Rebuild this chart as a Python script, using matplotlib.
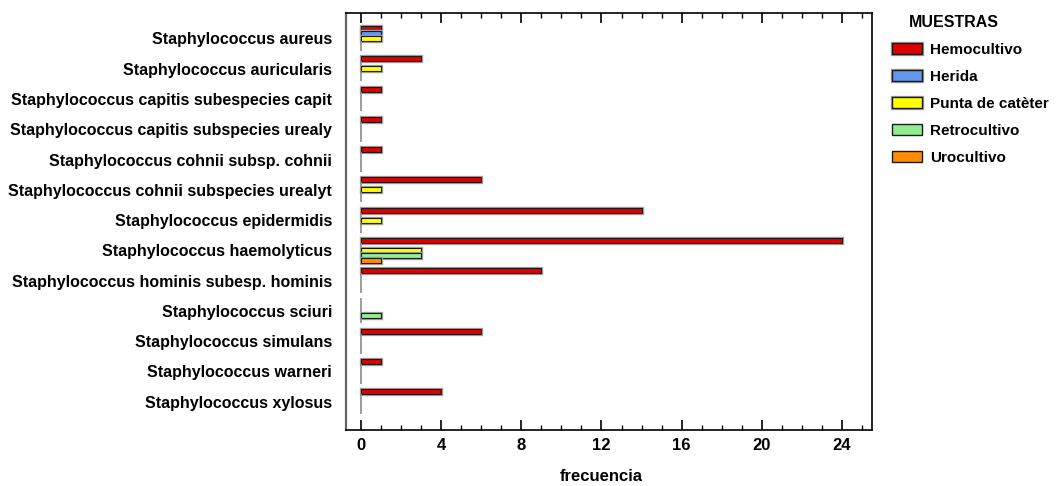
import matplotlib
matplotlib.use("Agg")
import matplotlib.pyplot as plt
import matplotlib.patheffects as pe
from matplotlib.ticker import MultipleLocator
import numpy as np

plt.rcParams["font.family"] = ["Liberation Sans", "DejaVu Sans"]
plt.rcParams["font.weight"] = "bold"

especies = [
    "Staphylococcus aureus",
    "Staphylococcus auricularis",
    "Staphylococcus capitis subespecies capit",
    "Staphylococcus capitis subspecies urealy",
    "Staphylococcus cohnii subsp. cohnii",
    "Staphylococcus cohnii subspecies urealyt",
    "Staphylococcus epidermidis",
    "Staphylococcus haemolyticus",
    "Staphylococcus hominis subesp. hominis",
    "Staphylococcus sciuri",
    "Staphylococcus simulans",
    "Staphylococcus warneri",
    "Staphylococcus xylosus",
]
muestras = ["Hemocultivo", "Herida", "Punta de catèter", "Retrocultivo", "Urocultivo"]
colores = ["#dc0000", "#6495ed", "#ffff00", "#90ee90", "#ff8c00"]

hemocultivo = [1, 3, 1, 1, 1, 6, 14, 24, 9, 0, 6, 1, 4]
herida = [1, 0, 0, 0, 0, 0, 0, 0, 0, 0, 0, 0, 0]
punta = [1, 1, 0, 0, 0, 1, 1, 3, 0, 0, 0, 0, 0]
retrocultivo = [0, 0, 0, 0, 0, 0, 0, 3, 0, 1, 0, 0, 0]
urocultivo = [0, 0, 0, 0, 0, 0, 0, 1, 0, 0, 0, 0, 0]
series = [hemocultivo, herida, punta, retrocultivo, urocultivo]

fig = plt.figure(figsize=(10.59, 4.86), dpi=100)
ax = fig.add_axes([0.3267, 0.1152, 0.4967, 0.8581])

y = np.arange(len(especies))
h = 0.165
halo = [pe.Stroke(linewidth=2.4, foreground="#a0a0a0"), pe.Normal()]
for i, (vals, name, col) in enumerate(zip(series, muestras, colores)):
    pos = y + (i - 2) * h
    bars = ax.barh(pos, vals, height=h, color=col, label=name,
                   edgecolor="#1a1a1a", linewidth=0.8, zorder=2)
    for b, v in zip(bars, vals):
        if v == 0:
            # empty slot shows as a thin grey line on the zero axis
            b.set_edgecolor("#8c8c8c")
            b.set_linewidth(1.2)
        else:
            b.set_path_effects(halo)

ax.set_xlim(-0.75, 25.5)
ax.set_ylim(12.94, -0.843)
ax.set_yticks(y)
ax.set_yticklabels(especies, fontsize=11.5, fontweight="bold")
ax.tick_params(axis="y", length=0, pad=10)

ax.xaxis.set_major_locator(MultipleLocator(4))
ax.xaxis.set_minor_locator(MultipleLocator(1))
ax.tick_params(axis="x", which="major", direction="in", length=7, width=1.2,
               top=True, labelsize=12, pad=6)
ax.tick_params(axis="x", which="minor", direction="in", length=3.5, width=1,
               top=True)
for t in ax.get_xticklabels():
    t.set_fontweight("bold")
ax.set_xlabel("frecuencia", fontsize=12, fontweight="bold")
ax.xaxis.set_label_coords(0.485, -0.093)

for s in ["top", "right", "bottom"]:
    ax.spines[s].set_linewidth(1.2)
    ax.spines[s].set_color("black")
ax.spines["left"].set_linewidth(1.6)
ax.spines["left"].set_color("#666666")

fig.text(0.858, 0.953, "MUESTRAS", fontsize=11.5, fontweight="bold",
         ha="left", va="center")
leg = fig.legend(loc="upper left", bbox_to_anchor=(0.8365, 0.925),
                 frameon=False, fontsize=11, handlelength=1.95,
                 handleheight=0.78, handletextpad=0.55, labelspacing=0.85,
                 borderaxespad=0)
for t in leg.get_texts():
    t.set_fontweight("bold")
for p in leg.get_patches():
    p.set_edgecolor("#1a1a1a")
    p.set_linewidth(1.0)

fig.savefig("out.png", dpi=100, facecolor="white")
